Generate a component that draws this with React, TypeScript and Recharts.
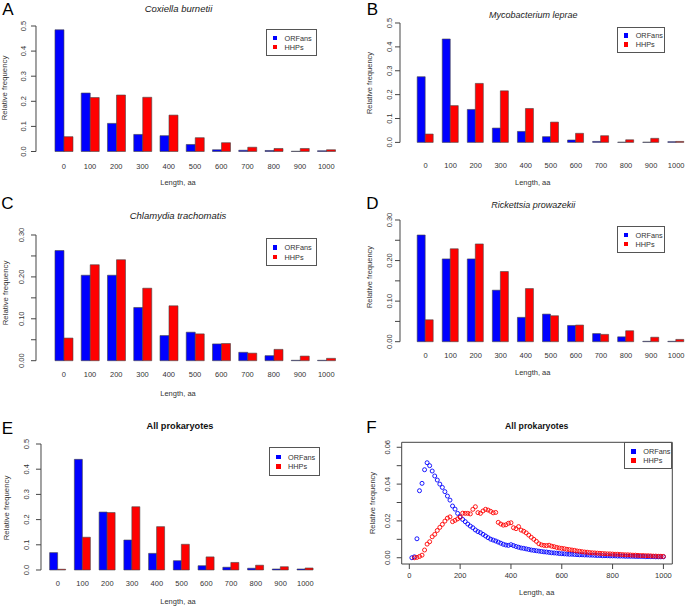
import React from 'react';
import { BarChart, Bar, XAxis, YAxis, ScatterChart, Scatter, ReferenceArea } from 'recharts';

// histogram bins (protein length, aa)
const lengthBins = ['0', '100', '200', '300', '400', '500', '600', '700', '800', '900', '1000'];

const coxiellaOrfans = [0.485, 0.233, 0.112, 0.068, 0.063, 0.028, 0.007, 0.005, 0.004, 0.001, 0.003];
const coxiellaHhps = [0.059, 0.215, 0.225, 0.216, 0.145, 0.055, 0.035, 0.017, 0.012, 0.012, 0.007];

const lepraeOrfans = [0.275, 0.433, 0.138, 0.06, 0.046, 0.024, 0.01, 0.004, 0.001, 0.001, 0.003];
const lepraeHhps = [0.035, 0.154, 0.247, 0.216, 0.142, 0.085, 0.038, 0.028, 0.011, 0.017, 0.004];

const chlamydiaOrfans = [0.263, 0.204, 0.204, 0.127, 0.06, 0.068, 0.04, 0.02, 0.012, 0.001, 0.001];
const chlamydiaHhps = [0.054, 0.229, 0.241, 0.173, 0.131, 0.064, 0.041, 0.018, 0.027, 0.011, 0.0056];

const rickettsiaOrfans = [0.263, 0.204, 0.204, 0.127, 0.06, 0.068, 0.04, 0.02, 0.012, 0.001, 0.001];
const rickettsiaHhps = [0.054, 0.229, 0.241, 0.173, 0.131, 0.064, 0.041, 0.018, 0.027, 0.011, 0.0056];

const allOrfans = [0.069, 0.439, 0.23, 0.119, 0.066, 0.037, 0.017, 0.011, 0.007, 0.004, 0.004];
const allHhps = [0.003, 0.13, 0.228, 0.251, 0.172, 0.102, 0.052, 0.03, 0.019, 0.013, 0.008];

const ticksHalf = [0, 0.1, 0.2, 0.3, 0.4, 0.5];
const ticksThird = [0, 0.05, 0.1, 0.15, 0.2, 0.25, 0.3];

// panel F: fine-grained length distribution
const curveLengths = [
  10, 20, 30, 40, 50, 60, 70, 80, 90, 100,
  110, 120, 130, 140, 150, 160, 170, 180, 190, 200,
  210, 220, 230, 240, 250, 260, 270, 280, 290, 300,
  310, 320, 330, 340, 350, 360, 370, 380, 390, 400,
  410, 420, 430, 440, 450, 460, 470, 480, 490, 500,
  510, 520, 530, 540, 550, 560, 570, 580, 590, 600,
  610, 620, 630, 640, 650, 660, 670, 680, 690, 700,
  710, 720, 730, 740, 750, 760, 770, 780, 790, 800,
  810, 820, 830, 840, 850, 860, 870, 880, 890, 900,
  910, 920, 930, 940, 950, 960, 970, 980, 990, 1000,
];

const orfansCurve = [
  0.0, 0.0005, 0.0103, 0.0364, 0.0404, 0.0478, 0.0516, 0.05, 0.0471, 0.0444,
  0.0422, 0.04, 0.0382, 0.0359, 0.0335, 0.0313, 0.0281, 0.0264, 0.0241, 0.0223,
  0.0208, 0.0196, 0.0183, 0.0172, 0.0163, 0.0151, 0.0142, 0.0136, 0.0127, 0.0118,
  0.0109, 0.0101, 0.0096, 0.0091, 0.0085, 0.0079, 0.0073, 0.0069, 0.0067, 0.0071,
  0.0066, 0.0061, 0.0057, 0.0053, 0.0051, 0.0048, 0.0045, 0.0042, 0.004, 0.0038,
  0.0036, 0.0034, 0.0032, 0.0031, 0.0029, 0.0027, 0.0026, 0.0025, 0.0023, 0.0022,
  0.0021, 0.002, 0.0019, 0.0019, 0.0018, 0.0017, 0.0016, 0.0016, 0.0015, 0.0015,
  0.0014, 0.0014, 0.0013, 0.0012, 0.0012, 0.0011, 0.0011, 0.0011, 0.001, 0.001,
  0.001, 0.0009, 0.0009, 0.0009, 0.0008, 0.0008, 0.0008, 0.0008, 0.0007, 0.0007,
  0.0007, 0.0007, 0.0006, 0.0006, 0.0006, 0.0006, 0.0005, 0.0005, 0.0005, 0.0005,
];

// starts at 20 aa
const hhpsCurve = [
  0.0, 0.0002, 0.0007, 0.0014, 0.0042, 0.0074, 0.0087, 0.0114, 0.0127,
  0.0148, 0.0165, 0.0181, 0.0199, 0.0215, 0.0222, 0.0196, 0.0203, 0.0211, 0.0219,
  0.0242, 0.0241, 0.0241, 0.0238, 0.0263, 0.0277, 0.0245, 0.0241, 0.0254, 0.0263,
  0.0259, 0.0252, 0.0244, 0.0246, 0.0192, 0.0183, 0.0177, 0.0179, 0.0187, 0.019,
  0.0163, 0.0158, 0.0169, 0.015, 0.0144, 0.0135, 0.0123, 0.0111, 0.01, 0.0089,
  0.0076, 0.007, 0.0067, 0.0066, 0.0068, 0.0063, 0.006, 0.0056, 0.0053, 0.0051,
  0.0049, 0.0046, 0.0044, 0.0042, 0.004, 0.0037, 0.0035, 0.0033, 0.0031, 0.003,
  0.0028, 0.0027, 0.0026, 0.0025, 0.0024, 0.0023, 0.0022, 0.0021, 0.0021, 0.002,
  0.0019, 0.0019, 0.0018, 0.0017, 0.0016, 0.0016, 0.0015, 0.0014, 0.0014, 0.0013,
  0.0012, 0.0012, 0.0011, 0.0011, 0.001, 0.0009, 0.0009, 0.0008, 0.0008, 0.0007,
];

const curveXTicks = [0, 200, 400, 600, 800, 1000];
const curveYTicks = [0, 0.01, 0.02, 0.03, 0.04, 0.05, 0.06];

const FONT = '"Liberation Sans", Arial, sans-serif';
const INK = '#333';
const BLUE = '#0000ff';
const RED = '#ff0000';

function Txt({ x, y, size = 7.5, italic = false, bold = false, rotate = 0, color = INK, children }: any) {
  return (
    <div
      style={{
        position: 'absolute', left: x, top: y, fontFamily: FONT, fontSize: size,
        fontStyle: italic ? 'italic' : 'normal', fontWeight: bold ? 'bold' : 'normal',
        color, whiteSpace: 'nowrap', lineHeight: 1,
        transform: `translate(-50%, -50%) rotate(${rotate}deg)`,
      }}
    >
      {children}
    </div>
  );
}

function LegendBox({ left, top, width, height }: any) {
  const rows = [
    { name: 'ORFans', color: BLUE, cy: height * 0.33 },
    { name: 'HHPs', color: RED, cy: height * 0.66 },
  ];
  return (
    <div style={{ position: 'absolute', left, top, width, height, border: '1px solid #555', boxSizing: 'border-box', background: '#fff' }}>
      {rows.map((r) => (
        <React.Fragment key={r.name}>
          <div style={{ position: 'absolute', left: 6, top: r.cy - 3, width: 4.5, height: 4.5, background: r.color }} />
          <div style={{ position: 'absolute', left: 18, top: r.cy - 5, fontFamily: FONT, fontSize: 7.3, lineHeight: '10px', color: INK }}>{r.name}</div>
        </React.Fragment>
      ))}
    </div>
  );
}

function BarPanel({ orfans, hhps, axisX, yTop, yBottom, bandStart, bandEnd, labelY, yLabelX, maxY, ticks, digits }: any) {
  const yw = 30;
  const xh = 30;
  const pad = 10; // room above the top tick label
  const left = axisX - yw;
  const top = yTop - pad;
  const width = bandEnd + 2 - left;
  const height = yBottom - top + xh;
  const data = lengthBins.map((bin, i) => ({ bin, orfans: orfans[i], hhps: hhps[i] }));
  const fmt = (v: number) => {
    const k = v / 0.1;
    return Math.abs(k - Math.round(k)) < 1e-6 ? v.toFixed(digits) : '';
  };
  return (
    <div style={{ position: 'absolute', left, top, width, height }}>
      <BarChart width={width} height={height} data={data} margin={{ top: pad, right: 0, bottom: 0, left: 0 }} barGap={0} barCategoryGap="16.667%">
        <XAxis
          dataKey="bin"
          type="category"
          height={xh}
          axisLine={false}
          tickLine={false}
          interval={0}
          padding={{ left: bandStart - axisX, right: 2 }}
          tick={(t: any) => (
            <text x={t.x} y={labelY - top} textAnchor="middle" dominantBaseline="central" fontSize={7.5} fontFamily={FONT} fill={INK}>
              {t.payload.value}
            </text>
          )}
        />
        <YAxis
          type="number"
          width={yw}
          domain={[0, maxY]}
          ticks={ticks}
          interval={0}
          tickSize={5}
          axisLine={{ stroke: '#444' }}
          tickLine={{ stroke: '#444' }}
          tick={(t: any) => {
            const lx = yLabelX - left;
            return (
              <text x={lx} y={t.y} transform={`rotate(-90 ${lx} ${t.y})`} textAnchor="middle" dominantBaseline="central" fontSize={7.5} fontFamily={FONT} fill={INK}>
                {fmt(t.payload.value)}
              </text>
            );
          }}
        />
        <Bar dataKey="orfans" fill={BLUE} stroke="#444" strokeWidth={0.6} isAnimationActive={false} />
        <Bar dataKey="hhps" fill={RED} stroke="#444" strokeWidth={0.6} isAnimationActive={false} />
      </BarChart>
    </div>
  );
}

function CurvePanel() {
  const left = 340;
  const top = 432;
  const width = 345;
  const height = 172;
  const yw = 61.7;
  const orfansPoints = curveLengths.map((len, i) => ({ len, freq: orfansCurve[i] }));
  const hhpsPoints = curveLengths.slice(1).map((len, i) => ({ len, freq: hhpsCurve[i] }));
  const xDom: [number, number] = [-30, 1035];
  const yDom: [number, number] = [-0.0034, 0.0627];
  const dot = (color: string) => (p: any) => (
    <circle cx={p.cx} cy={p.cy} r={2} fill="none" stroke={color} strokeWidth={0.9} />
  );
  return (
    <div style={{ position: 'absolute', left, top, width, height }}>
      <ScatterChart width={width} height={height} margin={{ top: 442.3 - top, right: 12.7, bottom: 0, left: 0 }}>
        <XAxis
          type="number"
          dataKey="len"
          domain={xDom}
          ticks={curveXTicks}
          allowDataOverflow
          height={40}
          interval={0}
          tickSize={5}
          axisLine={false}
          tickLine={{ stroke: '#444' }}
          tick={(t: any) => (
            <text x={t.x} y={575.7 - top} textAnchor="middle" dominantBaseline="central" fontSize={7.5} fontFamily={FONT} fill={INK}>
              {t.payload.value}
            </text>
          )}
        />
        <YAxis
          type="number"
          dataKey="freq"
          domain={yDom}
          ticks={curveYTicks}
          allowDataOverflow
          width={yw}
          interval={0}
          tickSize={5}
          axisLine={false}
          tickLine={{ stroke: '#444' }}
          tick={(t: any) => {
            const lx = 387.7 - left;
            const v = t.payload.value;
            const k = Math.round(v * 100);
            return (
              <text x={lx} y={t.y} transform={`rotate(-90 ${lx} ${t.y})`} textAnchor="middle" dominantBaseline="central" fontSize={7.5} fontFamily={FONT} fill={INK}>
                {k % 2 === 0 ? v.toFixed(2) : ''}
              </text>
            );
          }}
        />
        <ReferenceArea x1={xDom[0]} x2={xDom[1]} y1={yDom[0]} y2={yDom[1]} fill="none" stroke="#444" strokeWidth={1} ifOverflow="visible" />
        <Scatter data={orfansPoints} shape={dot(BLUE)} isAnimationActive={false} />
        <Scatter data={hhpsPoints} shape={dot(RED)} isAnimationActive={false} />
      </ScatterChart>
    </div>
  );
}

export default function App() {
  return (
    <div style={{ position: 'absolute', left: 0, top: 0, width: 685, height: 608, overflow: 'hidden', background: '#fff' }}>
      <BarPanel orfans={coxiellaOrfans} hhps={coxiellaHhps} axisX={36} yTop={25.5} yBottom={151} bandStart={50.6} bandEnd={339.4} labelY={166} yLabelX={23.3} maxY={0.5} ticks={ticksHalf} digits={1} />
      <BarPanel orfans={lepraeOrfans} hhps={lepraeHhps} axisX={399.5} yTop={23.3} yBottom={142.7} bandStart={412.5} bandEnd={688.2} labelY={165.7} yLabelX={389.3} maxY={0.5} ticks={ticksHalf} digits={1} />
      <BarPanel orfans={chlamydiaOrfans} hhps={chlamydiaHhps} axisX={36} yTop={235} yBottom={360.7} bandStart={50.6} bandEnd={339.4} labelY={375} yLabelX={21.7} maxY={0.3} ticks={ticksThird} digits={2} />
      <BarPanel orfans={rickettsiaOrfans} hhps={rickettsiaHhps} axisX={399.5} yTop={220} yBottom={341.7} bandStart={412.5} bandEnd={688.2} labelY={355.7} yLabelX={389.3} maxY={0.3} ticks={ticksThird} digits={2} />
      <BarPanel orfans={allOrfans} hhps={allHhps} axisX={40.7} yTop={444} yBottom={570} bandStart={45.2} bandEnd={317.4} labelY={583.3} yLabelX={26} maxY={0.5} ticks={ticksHalf} digits={1} />
      <CurvePanel />

      <LegendBox left={265.5} top={28.5} width={51} height={27.5} />
      <LegendBox left={616.7} top={26.7} width={48.5} height={26.7} />
      <LegendBox left={265.5} top={238.3} width={51} height={27.7} />
      <LegendBox left={616.5} top={226} width={48.5} height={26.7} />
      <LegendBox left={269} top={447} width={51} height={29} />
      <LegendBox left={624.3} top={442.3} width={48} height={27} />

      <Txt x={7.8} y={9.2} size={17} color="#000">A</Txt>
      <Txt x={372.5} y={9.2} size={17} color="#000">B</Txt>
      <Txt x={7.5} y={202.5} size={17} color="#000">C</Txt>
      <Txt x={372.5} y={202.5} size={17} color="#000">D</Txt>
      <Txt x={7.5} y={428.3} size={17} color="#000">E</Txt>
      <Txt x={371.5} y={427} size={17} color="#000">F</Txt>

      <Txt x={178.5} y={8.5} size={9.5} italic color="#222">Coxiella burnetii</Txt>
      <Txt x={533.3} y={15} size={9} italic color="#222">Mycobacterium leprae</Txt>
      <Txt x={178} y={216} size={9.5} italic color="#222">Chlamydia trachomatis</Txt>
      <Txt x={533.3} y={205} size={9} italic color="#222">Rickettsia prowazekii</Txt>
      <Txt x={180} y={426.7} size={9.2} bold color="#111">All prokaryotes</Txt>
      <Txt x={536.7} y={426} size={8.7} bold color="#111">All prokaryotes</Txt>

      <Txt x={178} y={183}>Length, aa</Txt>
      <Txt x={532.7} y={182.7}>Length, aa</Txt>
      <Txt x={178} y={394}>Length, aa</Txt>
      <Txt x={532.7} y={372.7}>Length, aa</Txt>
      <Txt x={178} y={601.7}>Length, aa</Txt>
      <Txt x={536.7} y={593.3}>Length, aa</Txt>

      <Txt x={5} y={87.5} rotate={-90} size={7.8}>Relative frequency</Txt>
      <Txt x={370} y={83.3} rotate={-90} size={7.5}>Relative frequency</Txt>
      <Txt x={5.5} y={293} rotate={-90} size={7.8}>Relative frequency</Txt>
      <Txt x={370} y={277} rotate={-90} size={7.5}>Relative frequency</Txt>
      <Txt x={7.3} y={508.3} rotate={-90} size={7.8}>Relative frequency</Txt>
      <Txt x={373.3} y={503.3} rotate={-90} size={7.5}>Relative frequency</Txt>
    </div>
  );
}
